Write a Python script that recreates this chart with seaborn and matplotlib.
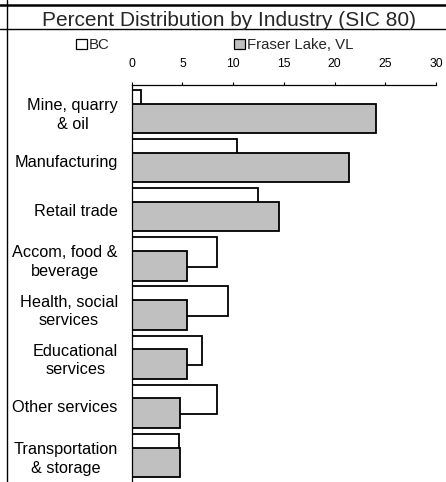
import pandas as pd
import matplotlib.pyplot as plt
import seaborn as sns
from matplotlib.lines import Line2D
from matplotlib.patches import Patch

industries = ['Mine, quarry\n& oil', 'Manufacturing', 'Retail trade',
              'Accom, food &\nbeverage', 'Health, social\nservices',
              'Educational\nservices', 'Other services', 'Transportation\n& storage']
bc = [0.9, 10.4, 12.5, 8.4, 9.5, 6.9, 8.4, 4.7]
fraser = [24.1, 21.4, 14.5, 5.5, 5.5, 5.5, 4.8, 4.8]
series = ['BC', 'Fraser Lake, VL']
x_ticks = [0, 5, 10, 15, 20, 25, 30]

df = pd.DataFrame({
    'industry': industries * 2,
    'pct': bc + fraser,
    'series': [series[0]] * len(bc) + [series[1]] * len(fraser),
})

sns.set_style('white')
plt.rcParams['font.family'] = ['Liberation Sans', 'DejaVu Sans']

fig = plt.figure(figsize=(4.46, 4.82), dpi=100)
ax = fig.add_axes([131.7 / 446, 0, (436 - 131.7) / 446, 1 - 84.5 / 482])

colors = {'BC': 'white', 'Fraser Lake, VL': '#c0c0c0'}
sns.barplot(data=df, y='industry', x='pct', hue='series', palette=colors,
            dodge=True, width=0.88, edgecolor='black', linewidth=1.3,
            orient='h', legend=False, ax=ax)

# excel style overlap: widen both bars so the second one sits over the first
n = len(industries)
for k, p in enumerate(ax.patches[:2 * n]):
    if k >= n:
        p.set_y(p.get_y() - 0.16)
    p.set_height(0.6)

ax.set_xlim(0, 30)
ax.set_ylim(7.54, -0.55)
ax.set_xticks(x_ticks)
ax.xaxis.tick_top()
ax.tick_params(axis='x', direction='out', length=2.5, width=0.8, pad=8,
               labelsize=8.8, colors='black', top=True, bottom=False)
ax.tick_params(axis='y', length=0, pad=10, labelsize=11.7, colors='black')
for lab in ax.get_yticklabels():
    lab.set_multialignment('center')
    lab.set_linespacing(1.3)
ax.set_xlabel('')
ax.set_ylabel('')
for side in ['right', 'bottom']:
    ax.spines[side].set_visible(False)
for side in ['top', 'left']:
    ax.spines[side].set_color('black')
    ax.spines[side].set_linewidth(0.9)

# outer frame and title box
fig.add_artist(Line2D([0, 1], [1 - 4.5 / 482] * 2, color='black', lw=1.8))
fig.add_artist(Line2D([0, 1], [1 - 29 / 482] * 2, color='black', lw=1.0))
fig.add_artist(Line2D([6.5 / 446] * 2, [0, 1], color='black', lw=1.0))
fig.text(229 / 446, 1 - 26.5 / 482, 'Percent Distribution by Industry (SIC 80)',
         ha='center', va='baseline', fontsize=15)

handles = [Patch(facecolor=colors[s], edgecolor='black', linewidth=0.9) for s in series]
fig.legend(handles, series, loc='center left', ncol=2, frameon=False,
           bbox_to_anchor=(76 / 446, 1 - 45 / 482), borderpad=0, borderaxespad=0,
           handlelength=0.7, handleheight=0.7, handletextpad=0.15,
           columnspacing=8.3, fontsize=10.8)

fig.savefig('out.png', dpi=100)
